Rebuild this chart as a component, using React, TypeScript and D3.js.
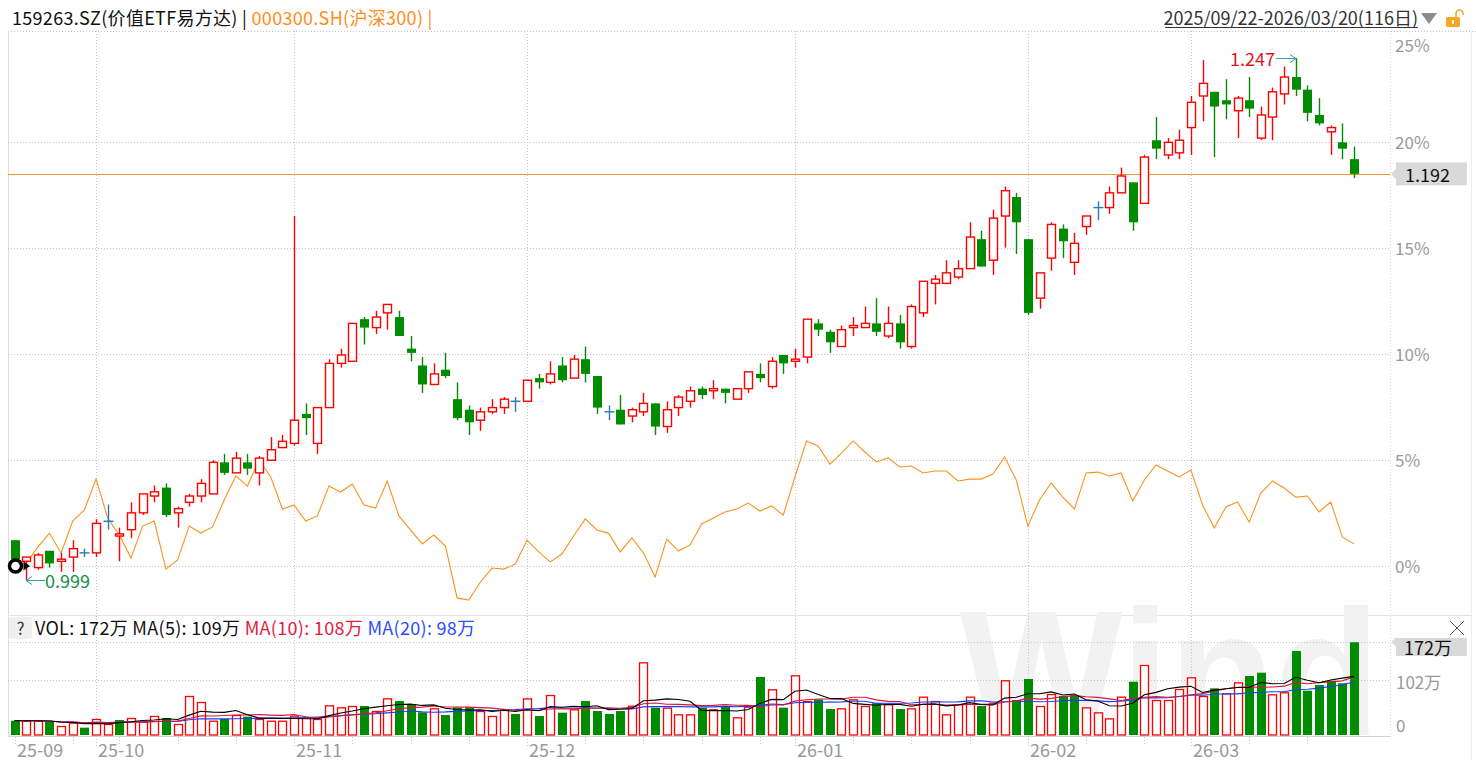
import { useMemo } from 'react';
import * as d3 from 'd3';

// trading days per month (categories)
const MONTH_DAYS: [string, number[]][] = [
  ['2025-09', [22, 23, 24, 25, 26, 29, 30]],
  ['2025-10', [9, 10, 13, 14, 15, 16, 17, 20, 21, 22, 23, 24, 27, 28, 29, 30, 31]],
  ['2025-11', [3, 4, 5, 6, 7, 10, 11, 12, 13, 14, 17, 18, 19, 20, 21, 24, 25, 26, 27, 28]],
  ['2025-12', [1, 2, 3, 4, 5, 8, 9, 10, 11, 12, 15, 16, 17, 18, 19, 22, 23, 24, 25, 26, 29, 30, 31]],
  ['2026-01', [5, 6, 7, 8, 9, 12, 13, 14, 15, 16, 19, 20, 21, 22, 23, 26, 27, 28, 29, 30]],
  ['2026-02', [2, 3, 4, 5, 6, 9, 10, 11, 12, 13, 24, 25, 26, 27]],
  ['2026-03', [2, 3, 4, 5, 6, 9, 10, 11, 12, 13, 16, 17, 18, 19, 20]],
];
const DATES = MONTH_DAYS.flatMap(([m, ds]) => ds.map((d) => `${m}-${String(d).padStart(2, '0')}`));

const BASE = 1.006;

const OPEN = [
  1.018, 1.008, 1.005, 1.013, 1.008, 1.010, 1.012, 1.012, 1.027, 1.020,
  1.023, 1.031, 1.039, 1.043, 1.031, 1.036, 1.039, 1.040, 1.055, 1.050,
  1.055, 1.050, 1.056, 1.062, 1.064, 1.078, 1.064, 1.081, 1.102, 1.103,
  1.123, 1.119, 1.126, 1.124, 1.109, 1.101, 1.092, 1.099, 1.085, 1.080,
  1.075, 1.079, 1.081, 1.084, 1.084, 1.095, 1.093, 1.101, 1.095, 1.104,
  1.096, 1.079, 1.080, 1.077, 1.079, 1.083, 1.072, 1.081, 1.084, 1.090,
  1.089, 1.090, 1.085, 1.090, 1.097, 1.091, 1.106, 1.103, 1.105, 1.121,
  1.117, 1.110, 1.119, 1.119, 1.121, 1.115, 1.121, 1.110, 1.126, 1.140,
  1.140, 1.143, 1.147, 1.161, 1.151, 1.172, 1.181, 1.161, 1.133, 1.152,
  1.166, 1.150, 1.167, 1.176, 1.176, 1.183, 1.188, 1.178, 1.208, 1.201,
  1.202, 1.214, 1.229, 1.231, 1.227, 1.222, 1.227, 1.209, 1.219, 1.230,
  1.238, 1.232, 1.220, 1.212, 1.207, 1.199,
];
const HIGH = [
  1.018, 1.010, 1.012, 1.013, 1.012, 1.018, 1.014, 1.028, 1.035, 1.024,
  1.036, 1.040, 1.044, 1.045, 1.034, 1.040, 1.047, 1.056, 1.059, 1.060,
  1.059, 1.058, 1.067, 1.068, 1.172, 1.083, 1.081, 1.104, 1.109, 1.121,
  1.124, 1.127, 1.130, 1.127, 1.115, 1.105, 1.102, 1.107, 1.093, 1.082,
  1.081, 1.085, 1.086, 1.086, 1.094, 1.097, 1.103, 1.105, 1.106, 1.110,
  1.096, 1.082, 1.087, 1.081, 1.088, 1.083, 1.084, 1.087, 1.091, 1.091,
  1.094, 1.090, 1.090, 1.098, 1.102, 1.105, 1.106, 1.109, 1.123, 1.123,
  1.118, 1.120, 1.124, 1.129, 1.133, 1.129, 1.125, 1.130, 1.141, 1.144,
  1.151, 1.151, 1.169, 1.165, 1.175, 1.186, 1.183, 1.161, 1.145, 1.169,
  1.168, 1.164, 1.172, 1.179, 1.186, 1.195, 1.188, 1.201, 1.219, 1.209,
  1.213, 1.229, 1.246, 1.231, 1.237, 1.229, 1.238, 1.224, 1.233, 1.243,
  1.247, 1.234, 1.228, 1.215, 1.216, 1.205,
];
const LOW = [
  1.009, 0.999, 1.004, 1.005, 1.003, 1.003, 1.010, 1.010, 1.023, 1.008,
  1.019, 1.030, 1.036, 1.029, 1.024, 1.034, 1.036, 1.040, 1.049, 1.050,
  1.049, 1.044, 1.056, 1.062, 1.063, 1.068, 1.059, 1.081, 1.100, 1.103,
  1.111, 1.116, 1.118, 1.115, 1.103, 1.088, 1.092, 1.095, 1.075, 1.068,
  1.070, 1.078, 1.078, 1.079, 1.084, 1.090, 1.092, 1.093, 1.095, 1.093,
  1.078, 1.075, 1.073, 1.074, 1.077, 1.068, 1.069, 1.077, 1.081, 1.085,
  1.085, 1.083, 1.085, 1.088, 1.093, 1.090, 1.097, 1.100, 1.102, 1.115,
  1.107, 1.110, 1.115, 1.119, 1.115, 1.114, 1.109, 1.109, 1.124, 1.130,
  1.140, 1.142, 1.147, 1.148, 1.144, 1.157, 1.154, 1.125, 1.128, 1.146,
  1.152, 1.144, 1.163, 1.170, 1.173, 1.183, 1.165, 1.178, 1.199, 1.199,
  1.199, 1.201, 1.217, 1.200, 1.218, 1.209, 1.219, 1.208, 1.208, 1.225,
  1.229, 1.217, 1.215, 1.201, 1.199, 1.190,
];
const CLOSE = [
  1.009, 1.010, 1.011, 1.007, 1.009, 1.014, 1.012, 1.026, 1.027, 1.021,
  1.031, 1.040, 1.041, 1.030, 1.033, 1.039, 1.045, 1.055, 1.050, 1.057,
  1.052, 1.057, 1.061, 1.065, 1.075, 1.076, 1.081, 1.102, 1.106, 1.121,
  1.119, 1.124, 1.130, 1.115, 1.107, 1.092, 1.097, 1.096, 1.076, 1.074,
  1.079, 1.081, 1.085, 1.084, 1.094, 1.093, 1.097, 1.094, 1.104, 1.097,
  1.081, 1.079, 1.073, 1.080, 1.083, 1.072, 1.080, 1.086, 1.089, 1.087,
  1.090, 1.088, 1.090, 1.098, 1.095, 1.103, 1.102, 1.104, 1.123, 1.118,
  1.112, 1.118, 1.120, 1.121, 1.117, 1.121, 1.112, 1.129, 1.141, 1.142,
  1.145, 1.147, 1.162, 1.148, 1.171, 1.184, 1.169, 1.126, 1.145, 1.168,
  1.160, 1.159, 1.172, 1.176, 1.183, 1.191, 1.169, 1.200, 1.204, 1.207,
  1.208, 1.226, 1.235, 1.224, 1.225, 1.228, 1.223, 1.220, 1.231, 1.238,
  1.232, 1.221, 1.216, 1.214, 1.204, 1.192,
];
// 沪深300 relative change, %
const HS300_PCT = [
  0.00, 0.12, 0.87, 1.53, 0.59, 2.10, 2.62, 4.08, 2.24, 1.44,
  0.35, 1.86, 2.10, -0.17, 0.26, 1.86, 1.53, 1.82, 3.09, 4.23,
  3.75, 4.98, 4.18, 2.67, 2.86, 2.10, 2.34, 3.75, 3.47, 3.85,
  2.86, 2.71, 3.99, 2.34, 1.68, 1.02, 1.44, 0.92, -1.53, -1.63,
  -0.78, -0.12, -0.17, 0.07, 1.20, 0.64, 0.17, 0.54, 1.39, 2.20,
  1.68, 1.53, 0.64, 1.30, 0.59, -0.54, 1.25, 0.68, 0.97, 1.96,
  2.24, 2.53, 2.67, 2.95, 2.57, 2.81, 2.38, 4.18, 5.88, 5.64,
  4.79, 5.31, 5.88, 5.36, 4.89, 5.08, 4.65, 4.70, 4.37, 4.46,
  4.46, 3.99, 4.08, 4.08, 4.32, 5.12, 4.04, 1.86, 3.09, 3.90,
  3.23, 2.67, 4.37, 4.41, 4.23, 4.37, 3.05, 4.04, 4.75, 4.46,
  4.18, 4.51, 2.86, 1.77, 2.76, 3.00, 2.05, 3.42, 3.99, 3.66,
  3.23, 3.28, 2.53, 3.00, 1.35, 1.02,
];
// 成交量, 万
const VOLUME = [
  26.5, 26.5, 26.5, 24.7, 16.7, 22.9, 13.6, 29.7, 20.4, 27.8,
  31.5, 24.7, 35.3, 31.5, 20.4, 72.4, 61.2, 26.5, 29.7, 37.1,
  34.0, 29.7, 26.5, 26.5, 35.9, 32.8, 29.7, 55.0, 51.3, 53.8,
  53.8, 44.5, 68.0, 63.0, 56.9, 42.0, 49.5, 37.1, 51.3, 51.3,
  44.5, 35.3, 47.7, 39.0, 68.0, 35.3, 74.2, 41.4, 47.7, 63.0,
  44.5, 39.0, 44.5, 54.4, 134.8, 50.7, 50.7, 38.3, 38.3, 50.7,
  47.7, 52.6, 32.8, 52.6, 107.6, 84.8, 50.7, 110.8, 63.0, 66.2,
  48.2, 49.5, 66.2, 53.8, 58.8, 57.0, 48.2, 49.5, 71.1, 63.0,
  38.3, 57.0, 71.1, 53.8, 58.8, 101.5, 64.9, 103.9, 53.8, 76.0,
  72.4, 74.2, 51.3, 42.0, 30.9, 71.1, 98.9, 129.9, 64.9, 64.9,
  85.3, 107.0, 72.4, 86.6, 77.4, 97.7, 109.5, 115.6, 75.5, 79.2,
  155.8, 82.2, 92.8, 100.7, 95.9, 172.0,
];
const PCT_TICKS = [0, 5, 10, 15, 20, 25];
const VOL_TICKS = [102, 172];

const FONT = '"Noto Sans CJK SC", "Noto Sans", sans-serif';
const RED = '#ff0000';
const GREEN = '#008c00';
const DOJI = '#2a7ab5';
const ARROW = '#3a9ab8';
const ORANGE = '#ff8c1a';
const GRID = '#c4c4c4';

const LEFT = 8;
const RIGHT = 1390;
const TOP = 31;
const PRICE_BOTTOM = 615;
const VOL_BASE = 735;

function movingAvg(values: number[], n: number) {
  return values.map((_, i) => d3.mean(values.slice(Math.max(0, i - n + 1), i + 1)) as number);
}

export default function App() {
  const n = DATES.length;
  const x = d3.scaleLinear().domain([0, n - 1]).range([14.5, 1354]);
  const yPct = d3.scaleLinear().domain([0, 25]).range([565.5, 36]);
  const pct = (p: number) => (p / BASE - 1) * 100;
  const yP = (p: number) => yPct(pct(p));
  const yVol = d3.scaleLinear().domain([0, d3.max(VOLUME) as number]).range([VOL_BASE, 642.3]);

  const parsed = useMemo(() => DATES.map((d) => new Date(d + 'T00:00:00')), []);
  const monthStarts = d3.range(1, n).filter((i) => parsed[i].getMonth() !== parsed[i - 1].getMonth());
  const weekStarts = d3.range(0, n).filter((i) => {
    if (i === 0) return true;
    const gap = (parsed[i].getTime() - parsed[i - 1].getTime()) / 86400000;
    return gap >= 7 || parsed[i].getDay() <= parsed[i - 1].getDay();
  });

  const hsLine = d3.line<number>().x((_, i) => x(i)).y((d) => yPct(d));
  const ma5 = movingAvg(VOLUME, 5);
  const ma10 = movingAvg(VOLUME, 10);
  const ma20 = movingAvg(VOLUME, 20);
  const maLine = d3.line<number>().x((_, i) => x(i)).y((d) => yVol(d));

  const last = n - 1;
  const lastY = yP(CLOSE[last]);
  const hiIdx = d3.maxIndex(HIGH);
  const loIdx = d3.minIndex(LOW);
  const hiX = Math.round(x(hiIdx));
  const hiY = Math.round(yP(HIGH[hiIdx]));
  const loX = Math.round(x(loIdx));
  const loY = Math.round(yP(LOW[loIdx]));

  const fmtWan = (v: number) => `${Math.round(v)}万`;

  const candles = DATES.map((_, i) => {
    const cx = Math.round(x(i)) + 0.5;
    const o = OPEN[i], h = HIGH[i], l = LOW[i], c = CLOSE[i];
    const yo = yP(o), yh = yP(h), yl = yP(l), yc = yP(c);
    if (o === c) {
      return (
        <g key={i} stroke={DOJI} strokeWidth={1.4}>
          <line x1={cx} x2={cx} y1={yh} y2={yl} />
          <line x1={cx - 5} x2={cx + 5} y1={yc} y2={yc} />
        </g>
      );
    }
    if (c > o) {
      const top = yc, bot = Math.max(yo, yc + 1.5);
      return (
        <g key={i} stroke={RED} strokeWidth={1.4}>
          <line x1={cx} x2={cx} y1={yh} y2={top} />
          <line x1={cx} x2={cx} y1={bot} y2={yl} />
          <rect x={cx - 4} y={top} width={8} height={bot - top} fill="#fff" />
        </g>
      );
    }
    return (
      <g key={i}>
        <line x1={cx} x2={cx} y1={yh} y2={yl} stroke={GREEN} strokeWidth={1.4} />
        <rect x={cx - 4.5} y={yo} width={9} height={Math.max(yc - yo, 1.5)} fill={GREEN} />
      </g>
    );
  });

  const volBars = VOLUME.map((v, i) => {
    const up = i === 0 ? CLOSE[0] >= OPEN[0] : CLOSE[i] >= CLOSE[i - 1];
    const cx = Math.round(x(i));
    const top = yVol(v);
    return up ? (
      <rect key={i} x={cx - 3.5} y={top + 0.5} width={8} height={VOL_BASE - top - 0.5}
        fill="#fff" stroke={RED} strokeWidth={1.3} />
    ) : (
      <rect key={i} x={cx - 4} y={top} width={9} height={VOL_BASE - top} fill={GREEN} />
    );
  });

  return (
    <div style={{ position: 'fixed', left: 0, top: 0, background: '#fff' }}>
      <svg width={1476} height={773} style={{ display: 'block', fontFamily: FONT }}>
        <defs>
          <clipPath id="volClip">
            <rect x={LEFT} y={600} width={RIGHT - LEFT} height={VOL_BASE - 600} />
          </clipPath>
        </defs>
        <rect width={1476} height={773} fill="#fff" />

        {/* header */}
        <text x={12} y={25} fontSize={18} fill="#111" letterSpacing={0.3}>
          159263.SZ(价值ETF易方达) |{' '}
          <tspan fill={ORANGE}>000300.SH(沪深300) |</tspan>
        </text>
        <text x={1418} y={25} fontSize={18} fill="#333" textAnchor="end">
          2025/09/22-2026/03/20(116日)
        </text>
        <line x1={1165} x2={1418} y1={27.5} y2={27.5} stroke="#333" strokeWidth={1} />
        <polygon points="1421,13 1437,13 1429,24" fill="#8c8c8c" />
        <rect x={1446} y={17} width={14} height={10} rx={1.5} fill="#f5a623" />
        <rect x={1452} y={20} width={2} height={4} fill="#fff" />
        <path d="M1456 17 V13.5 a3.5 3.5 0 0 1 7 0 V15" fill="none" stroke="#f5a623" strokeWidth={1.6} />

        {/* frame */}
        <line x1={LEFT} x2={1476} y1={TOP + 0.5} y2={TOP + 0.5} stroke={GRID} strokeDasharray="1 2" />
        <line x1={LEFT + 0.5} x2={LEFT + 0.5} y1={TOP} y2={VOL_BASE + 2} stroke="#dcdcdc" />
        <line x1={RIGHT + 0.5} x2={RIGHT + 0.5} y1={TOP} y2={VOL_BASE + 2} stroke="#d8d8d8" strokeDasharray="1 2" />
        <line x1={1471.5} x2={1471.5} y1={TOP} y2={760} stroke="#eeeeee" />
        <line x1={LEFT} x2={1471} y1={PRICE_BOTTOM + 0.5} y2={PRICE_BOTTOM + 0.5} stroke="#e4e4e4" />
        <line x1={LEFT} x2={RIGHT} y1={VOL_BASE + 1.5} y2={VOL_BASE + 1.5} stroke="#d4d4d4" />

        {/* watermark */}
        <g clipPath="url(#volClip)">
          <text x={960} y={736} fontSize={180} fontWeight="bold" fill="#f2f2f2"
            fontFamily='"Liberation Sans", Arial, sans-serif' textLength={420} lengthAdjust="spacingAndGlyphs">
            Wind
          </text>
        </g>

        {/* price grid */}
        {PCT_TICKS.filter((t) => t < 25).map((t) => (
          <line key={t} x1={LEFT} x2={RIGHT} y1={Math.round(yPct(t)) + 0.5} y2={Math.round(yPct(t)) + 0.5}
            stroke={GRID} strokeDasharray="1 2" />
        ))}
        {PCT_TICKS.map((t) => (
          <text key={t} x={1395} y={Math.max(yPct(t), 44)} fontSize={17} fill="#999" dominantBaseline="central">
            {t}%
          </text>
        ))}

        {/* volume grid */}
        {VOL_TICKS.map((t) => (
          <line key={t} x1={LEFT} x2={RIGHT} y1={Math.round(yVol(t)) + 0.5} y2={Math.round(yVol(t)) + 0.5}
            stroke={GRID} strokeDasharray="1 2" />
        ))}

        {/* month grid and week ticks */}
        {monthStarts.map((i) => (
          <line key={i} x1={Math.round(x(i)) + 0.5} x2={Math.round(x(i)) + 0.5} y1={TOP} y2={746}
            stroke={GRID} strokeDasharray="1 2" />
        ))}
        {weekStarts.filter((i) => !monthStarts.includes(i)).map((i) => (
          <line key={i} x1={Math.round(x(i)) + 0.5} x2={Math.round(x(i)) + 0.5} y1={737} y2={745}
            stroke={GRID} strokeDasharray="1 2" />
        ))}
        {[0, ...monthStarts].map((i) => (
          <text key={i} x={Math.round(x(i)) + 2} y={757} fontSize={18} fill="#999">
            {DATES[i].slice(2, 7)}
          </text>
        ))}

        {/* 沪深300 */}
        <path d={hsLine(HS300_PCT) ?? ''} fill="none" stroke="#f7931e" strokeWidth={1.1} />

        {/* last price line */}
        <line x1={LEFT} x2={RIGHT} y1={Math.round(lastY) + 0.5} y2={Math.round(lastY) + 0.5} stroke="#f0962e" strokeWidth={1} />

        {candles}

        {/* start marker */}
        <circle cx={15.5} cy={566} r={6} fill="#fff" stroke="#000" strokeWidth={3.5} />
        <polygon points="23.5,561.5 30,566 23.5,570.5" fill="#000" />

        {/* max / min marks */}
        <line x1={hiX - 20} x2={hiX} y1={hiY + 0.5} y2={hiY + 0.5} stroke={ARROW} strokeWidth={1} />
        <path d={`M${hiX - 6},${hiY - 3.5} L${hiX},${hiY + 0.5} L${hiX - 6},${hiY + 4.5}`} fill="none" stroke={ARROW} strokeWidth={1} />
        <text x={hiX - 21} y={hiY} fontSize={18} fill="#e0141e" textAnchor="end" dominantBaseline="central">
          {HIGH[hiIdx].toFixed(3)}
        </text>
        <line x1={loX} x2={loX + 19} y1={loY + 0.5} y2={loY + 0.5} stroke={ARROW} strokeWidth={1} />
        <path d={`M${loX + 6},${loY - 3.5} L${loX},${loY + 0.5} L${loX + 6},${loY + 4.5}`} fill="none" stroke={ARROW} strokeWidth={1} />
        <text x={loX + 19} y={loY} fontSize={18} fill="#139046" dominantBaseline="central">
          {LOW[loIdx].toFixed(3)}
        </text>

        {/* last price tag */}
        <polygon points={`1391,${lastY} 1396,${lastY - 5} 1396,${lastY + 5}`} fill="#d9d9d9" />
        <rect x={1396} y={lastY - 11.5} width={71} height={23} fill="#d9d9d9" />
        <text x={1405} y={lastY} fontSize={18} fill="#111" dominantBaseline="central">
          {CLOSE[last].toFixed(3)}
        </text>

        {/* volume panel */}
        {volBars}
        <path d={maLine(ma20) ?? ''} fill="none" stroke="#1a3cff" strokeWidth={1.1} />
        <path d={maLine(ma10) ?? ''} fill="none" stroke="#dc143c" strokeWidth={1.1} />
        <path d={maLine(ma5) ?? ''} fill="none" stroke="#000" strokeWidth={1.1} />

        <rect x={9} y={617} width={23} height={22} rx={3} fill="#efefef" />
        <text x={20.5} y={635} fontSize={17} fill="#333" textAnchor="middle">?</text>
        <text x={35} y={635} fontSize={18} fill="#111" letterSpacing={0.3}>
          VOL: {fmtWan(VOLUME[last])} MA(5): {fmtWan(ma5[last])}{' '}
          <tspan fill="#e6193c">MA(10): {fmtWan(ma10[last])}</tspan>{' '}
          <tspan fill="#2b4bff">MA(20): {fmtWan(ma20[last])}</tspan>
        </text>
        <line x1={1450} x2={1464} y1={621} y2={635} stroke="#555" />
        <line x1={1464} x2={1450} y1={621} y2={635} stroke="#555" />

        <text x={1396} y={yVol(VOL_TICKS[0]) + 1} fontSize={17} fill="#999" dominantBaseline="central">
          {VOL_TICKS[0]}万
        </text>
        <text x={1396} y={724} fontSize={17} fill="#999" dominantBaseline="central">0</text>
        <polygon points={`1391,642 1396,637.5 1396,646.5`} fill="#d9d9d9" />
        <rect x={1396} y={638} width={71} height={18} fill="#d9d9d9" />
        <text x={1404} y={647} fontSize={18} fill="#111" dominantBaseline="central">
          {fmtWan(VOLUME[last])}
        </text>
      </svg>
    </div>
  );
}
